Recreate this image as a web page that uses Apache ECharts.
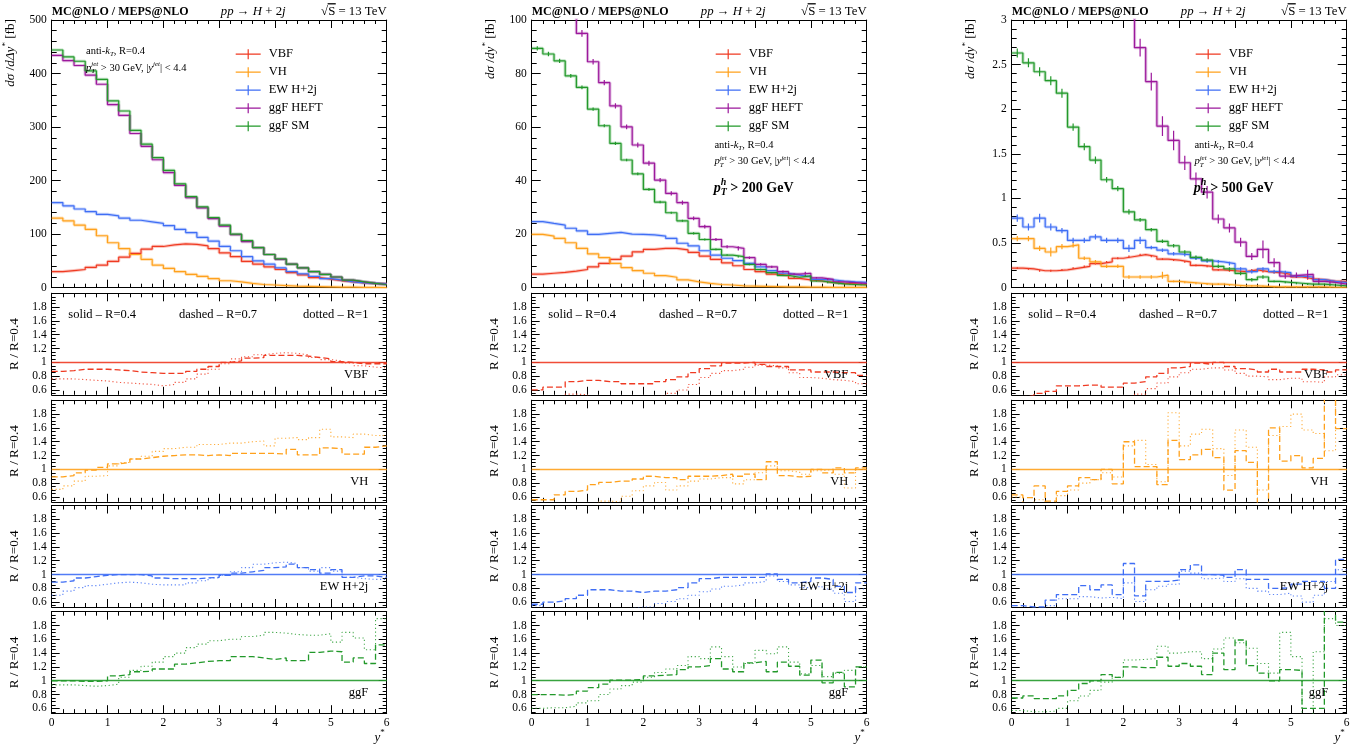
<!DOCTYPE html>
<html><head><meta charset="utf-8">
<script src="https://cdn.jsdelivr.net/npm/echarts@6/dist/echarts.min.js"></script>
<style>html,body{margin:0;padding:0;background:#fff}#c{width:1372px;height:748px}</style>
</head><body><div id="c"></div>
<script>
// ---------------- DATA ----------------
const binLo = [0,0.2,0.4,0.6,0.8,1.0,1.2,1.4,1.6,1.8,2.0,2.2,2.4,2.6,2.8,3.0,3.2,3.4,3.6,3.8,4.0,4.2,4.4,4.6,4.8,5.0,5.2,5.4,5.6,5.8];
const xMax = 6;
const seriesNames = ['VBF','VH','EW H+2j','ggF HEFT','ggF SM'];
const ratioNames = ['VBF','VH','EW H+2j','ggF'];
const cutLabels = ['', '200 GeV', '500 GeV'];
const mainYMax = [500, 100, 3];
const mainYStep = [100, 20, 0.5];
const ratioTicks = [0.6,0.8,1,1.2,1.4,1.6,1.8];

// inclusive (R=0.4), d sigma / d Delta y* [fb]
const VBF_incl  = [30,32,34,38,42,49,57,64,72,77,80,82,81,78,73,65,58,49,44,39,34,28,24,19,16,13,11,9,8,7.5];
const VH_incl   = [130,125,117,109,97,84,73,62,53,42,36,30,25,21,17,13,11,8,6,5,4,3,2.5,2,1.5,1,1,0.6,0.5,0.3];
const EW_incl   = [159,153,147,142,137,134,130,126,123,120,116,109,103,94,87,77,69,58,50,44,37,30,26,21,17,14,11,9,8,7];
const HEFT_incl = [434,424,415,397,380,342,322,288,264,239,215,191,168,149,129,115,99,86,75,62,53,44,37,30,25,20,14,11,8,6];
const SM_incl   = [444,431,423,405,389,349,330,294,268,243,219,194,170,151,131,117,100,88,75,62,54,44,37,30,25,20,14,11,8,6];

// pT^h > 200 GeV
const VBF_200  = [5.1,5.4,5.7,6.2,6.8,7.8,9.1,10.6,11.8,13.4,14.3,14.7,14.7,14.1,13.2,11.8,10.6,9.3,8.2,6.8,6.0,5.1,4.5,3.5,2.9,2.5,2.0,1.6,1.4,1.2];
const VH_200   = [19.9,19.3,18.4,16.8,14.7,12.6,11.2,9.1,7.5,6.4,5.4,4.5,3.9,2.9,2.2,1.6,1.2,1.0,0.7,0.6,0.5,0.4,0.3,0.3,0.2,0.2,0.1,0.1,0.1,0.1];
const EW_200   = [24.7,24.0,23.4,22.2,21.2,19.9,20.3,20.7,20.0,19.9,19.7,19.3,18.4,16.6,15.6,13.8,12.2,11.0,10.1,9.1,7.8,6.4,5.4,4.7,4.1,3.1,2.9,2.5,2.2,2.0];
const HEFT_200 = [117,113,108,103,95,84.4,76.6,67.9,60.1,53.3,46.5,40.2,35.2,31.8,25.9,22.8,18.0,15.3,14.7,11.2,8.7,7.8,6.0,5.1,5.4,3.7,3.1,2.2,1.9,1.6];
const SM_200   = [89.4,87.3,84.7,79.1,74.8,66.7,60.5,53.9,47.7,42.5,36.7,32.0,28.0,25.0,20.3,18.0,14.3,12.2,11.6,8.7,6.8,5.6,4.6,3.9,4.4,2.5,1.9,1.4,1.2,1.0];
// statistical half-errors of the visible crosses (pT^h > 200 GeV)
const HEFT_200_err = [1.5,1.5,1.4,1.4,1.3,1.0,1.0,1.0,0.9,0.9,0.9,0.8,0.8,0.8,0.7,0.7,0.6,0.6,0.8,0.5,0.4,0.4,0.4,0.3,0.6,0.3,0.3,0.2,0.2,0.2];
const SM_200_err   = [0.8,0.8,0.8,0.7,0.7,0.6,0.6,0.6,0.5,0.5,0.5,0.5,0.4,0.4,0.4,0.4,0.3,0.3,0.3,0.3,0.3,0.2,0.2,0.2,0.3,0.2,0.2,0.1,0.1,0.1];

// pT^h > 500 GeV
const VBF_500  = [0.22,0.21,0.19,0.19,0.20,0.22,0.24,0.27,0.29,0.33,0.35,0.37,0.35,0.32,0.31,0.29,0.25,0.24,0.20,0.19,0.18,0.20,0.18,0.17,0.15,0.12,0.10,0.09,0.07,0.07];
const VH_500   = [0.55,0.55,0.44,0.40,0.46,0.48,0.33,0.29,0.24,0.24,0.12,0.12,0.12,0.14,0.07,0.06,0.05,0.04,0.04,0.03,0.02,0.02,0.015,0.01,0.01,0.01,0.01,0.01,0.005,0.005];
const EW_500   = [0.78,0.68,0.78,0.68,0.64,0.53,0.53,0.57,0.53,0.53,0.44,0.53,0.45,0.42,0.38,0.37,0.33,0.30,0.29,0.27,0.21,0.18,0.21,0.18,0.17,0.13,0.12,0.09,0.07,0.06];
const HEFT_500 = [7.9,7.6,7.3,7.0,6.5,5.6,5.0,4.6,4.0,3.7,3.1,2.69,2.31,1.81,1.65,1.40,1.22,1.07,0.77,0.67,0.51,0.35,0.43,0.28,0.13,0.14,0.15,0.07,0.06,0.04];
const SM_500   = [2.63,2.52,2.42,2.32,2.18,1.80,1.58,1.43,1.21,1.11,0.85,0.76,0.65,0.52,0.47,0.40,0.34,0.31,0.24,0.21,0.16,0.09,0.12,0.07,0.06,0.05,0.04,0.04,0.03,0.02];
// statistical half-errors of the visible crosses (pT^h > 500 GeV)
const VBF_500_err  = [0.01,0.01,0.01,0.01,0.01,0.01,0.01,0.01,0.01,0.01,0.01,0.01,0.01,0.01,0.01,0.01,0.01,0.01,0.01,0.01,0.01,0.01,0.01,0.01,0.01,0.01,0.01,0.01,0.01,0.01];
const VH_500_err   = [0.03,0.03,0.03,0.05,0.03,0.03,0.02,0.02,0.02,0.02,0.02,0.02,0.02,0.04,0.01,0.01,0.01,0.01,0.01,0.01,0.01,0.01,0.01,0.01,0.01,0.01,0.01,0.01,0.01,0.01];
const EW_500_err   = [0.04,0.04,0.05,0.04,0.03,0.03,0.03,0.03,0.03,0.03,0.04,0.04,0.02,0.02,0.02,0.02,0.02,0.02,0.02,0.02,0.02,0.02,0.02,0.02,0.02,0.02,0.02,0.01,0.01,0.01];
const HEFT_500_err = [0.15,0.15,0.15,0.15,0.14,0.13,0.12,0.12,0.11,0.11,0.10,0.10,0.10,0.11,0.11,0.08,0.07,0.07,0.05,0.05,0.05,0.04,0.10,0.05,0.03,0.03,0.05,0.03,0.02,0.02];
const SM_500_err   = [0.05,0.05,0.05,0.05,0.05,0.04,0.04,0.04,0.03,0.03,0.03,0.02,0.02,0.02,0.02,0.02,0.02,0.02,0.02,0.02,0.02,0.02,0.02,0.01,0.01,0.01,0.01,0.01,0.01,0.01];

// ratios R=0.7 (dashed) and R=1 (dotted) over R=0.4
const VBF_incl_R07 = [0.87,0.88,0.90,0.90,0.90,0.89,0.88,0.86,0.85,0.84,0.84,0.84,0.87,0.90,0.94,1.00,1.02,1.06,1.07,1.10,1.10,1.10,1.09,1.07,1.05,1.01,1.00,0.98,0.98,0.98];
const VBF_incl_R10 = [0.76,0.76,0.75,0.74,0.73,0.71,0.70,0.69,0.68,0.66,0.68,0.71,0.76,0.83,0.90,0.98,1.05,1.08,1.11,1.13,1.14,1.13,1.11,1.07,1.04,1.02,0.99,0.95,0.93,0.92];
const VH_incl_R07  = [0.89,0.91,0.95,0.99,1.03,1.08,1.10,1.15,1.17,1.19,1.20,1.21,1.21,1.20,1.21,1.20,1.23,1.23,1.23,1.23,1.22,1.29,1.21,1.21,1.31,1.30,1.22,1.22,1.32,1.34];
const VH_incl_R10  = [0.71,0.76,0.83,0.90,0.91,1.05,1.10,1.15,1.19,1.26,1.30,1.32,1.32,1.36,1.36,1.38,1.38,1.40,1.41,1.34,1.45,1.46,1.43,1.46,1.58,1.47,1.46,1.51,1.49,1.49];
const EW_incl_R07  = [0.89,0.91,0.95,0.97,0.99,1.00,1.00,1.00,0.98,0.95,0.94,0.94,0.94,0.95,0.96,0.99,1.02,1.04,1.06,1.10,1.11,1.15,1.10,1.07,1.02,1.07,0.96,0.98,0.98,0.96];
const EW_incl_R10  = [0.70,0.76,0.81,0.84,0.86,0.88,0.89,0.88,0.86,0.85,0.85,0.85,0.88,0.91,0.95,0.99,1.04,1.10,1.15,1.17,1.18,1.16,1.10,1.05,1.10,1.05,0.96,0.94,0.93,0.93];
const ggF_incl_R07 = [1.00,1.00,0.99,0.99,1.00,1.07,1.09,1.13,1.14,1.17,1.17,1.24,1.26,1.28,1.29,1.29,1.35,1.35,1.33,1.31,1.33,1.29,1.29,1.41,1.43,1.42,1.27,1.33,1.25,1.52];
const ggF_incl_R10 = [0.94,0.94,0.93,0.92,0.93,0.95,1.05,1.15,1.21,1.27,1.35,1.40,1.48,1.53,1.58,1.60,1.60,1.64,1.66,1.70,1.69,1.67,1.66,1.66,1.68,1.56,1.70,1.62,1.45,1.90];

const VBF_200_R07 = [0.60,0.64,0.64,0.72,0.74,0.74,0.72,0.72,0.69,0.69,0.69,0.72,0.75,0.79,0.85,0.91,0.95,0.99,0.99,1.00,0.97,0.94,0.94,0.89,0.89,0.86,0.86,0.85,0.85,0.81];
const VBF_200_R10 = [0.45,0.47,0.50,0.54,0.53,0.50,0.49,0.48,0.48,0.49,0.50,0.52,0.55,0.60,0.68,0.78,0.84,0.88,0.90,0.93,0.96,0.95,0.92,0.85,0.78,0.77,0.75,0.74,0.72,0.69];
const VH_200_R07  = [0.56,0.56,0.63,0.68,0.70,0.78,0.81,0.83,0.83,0.86,0.90,0.88,0.88,0.85,0.90,0.90,0.91,0.93,0.90,0.93,0.85,1.11,0.91,0.89,0.90,1.00,0.95,1.02,0.95,1.02];
const VH_200_R10  = [0.40,0.42,0.45,0.47,0.50,0.50,0.54,0.53,0.61,0.69,0.76,0.81,0.70,0.76,0.83,0.86,0.88,0.88,0.79,0.85,0.95,1.05,0.98,0.96,0.93,0.98,1.00,0.93,0.73,1.00];
const EW_200_R07  = [0.57,0.60,0.62,0.65,0.70,0.78,0.78,0.76,0.76,0.74,0.76,0.76,0.78,0.81,0.88,0.94,0.96,0.96,0.96,0.96,0.96,1.01,0.93,0.88,0.90,0.95,0.93,0.83,0.74,0.88];
const EW_200_R10  = [0.55,0.50,0.48,0.47,0.47,0.48,0.49,0.50,0.51,0.53,0.53,0.58,0.61,0.65,0.70,0.75,0.79,0.83,0.85,0.88,0.90,0.98,0.90,0.85,0.81,0.83,0.79,0.73,0.61,0.79];
const ggF_200_R07 = [0.80,0.80,0.79,0.80,0.85,0.90,0.95,1.01,1.01,1.02,1.07,1.08,1.09,1.16,1.20,1.22,1.32,1.17,1.13,1.26,1.28,1.13,1.27,1.21,1.08,1.30,0.97,1.12,0.91,1.20];
const ggF_200_R10 = [0.60,0.61,0.61,0.63,0.68,0.71,0.80,0.88,0.93,0.98,1.05,1.12,1.17,1.22,1.35,1.32,1.49,1.35,1.20,1.25,1.44,1.39,1.49,1.27,1.10,1.22,1.06,1.11,1.15,1.20];

const VBF_500_R07 = [0.50,0.52,0.55,0.58,0.66,0.66,0.67,0.67,0.64,0.64,0.70,0.72,0.79,0.84,0.92,0.94,0.99,0.97,1.00,0.94,0.91,0.89,0.86,0.90,0.86,0.86,0.90,0.89,0.86,0.89];
const VBF_500_R10 = [0.40,0.42,0.43,0.45,0.46,0.46,0.47,0.47,0.48,0.49,0.49,0.54,0.62,0.70,0.79,0.85,0.90,0.92,0.92,0.89,0.84,0.80,0.79,0.75,0.77,0.77,0.72,0.71,0.79,0.82];
const VH_500_R07  = [0.63,0.59,0.76,0.54,0.68,0.76,0.88,0.85,1.00,0.79,1.40,1.04,1.04,0.78,1.42,1.14,1.21,1.29,1.17,0.70,1.27,1.10,0.40,1.60,1.12,1.20,1.02,1.16,2.10,1.59];
const VH_500_R10  = [0.60,0.50,0.56,0.50,0.62,0.70,0.80,0.85,0.95,0.89,1.34,1.42,1.07,0.82,1.82,1.34,1.51,1.58,1.30,0.91,1.57,1.32,0.70,1.49,1.62,1.80,1.57,1.52,1.27,2.10];
const EW_500_R07  = [0.55,0.53,0.53,0.63,0.71,0.71,0.84,0.78,0.85,0.71,1.16,0.69,0.90,0.90,0.92,1.07,1.14,1.00,0.99,0.96,1.07,0.93,0.93,0.80,0.81,0.86,0.90,0.90,0.80,1.22];
const EW_500_R10  = [0.50,0.48,0.50,0.55,0.65,0.65,0.68,0.66,0.67,0.65,0.88,0.61,0.78,0.83,0.86,1.05,1.02,0.94,0.95,0.90,0.94,0.80,0.76,0.71,0.73,0.69,0.60,0.70,0.90,1.07];
const ggF_500_R07 = [0.75,0.78,0.74,0.74,0.78,0.86,0.96,1.00,1.09,1.05,1.20,1.19,1.19,1.34,1.21,1.25,1.21,1.09,1.40,1.16,1.59,1.22,1.11,1.00,1.16,1.15,0.60,0.60,2.20,1.85];
const ggF_500_R10 = [0.57,0.55,0.55,0.56,0.60,0.71,0.78,0.86,0.98,1.05,1.30,1.31,1.32,1.50,1.40,1.42,1.42,1.32,1.46,1.62,1.55,1.47,1.25,1.11,1.70,1.35,0.51,1.42,1.90,1.80];

// ---------------- LAYOUT / STYLE ----------------
const FF = 'Liberation Serif';
const COLORS = ['#ef3a22','#ffa11c','#3f6ef5','#9c189c','#22992a'];
const RATIO_COLORS = ['#ef3a22','#ffa11c','#3f6ef5','#22992a'];
const colLeft = [51.7, 531.7, 1011.7];
const plotW = 335;
const mainTop = 20, mainH = 267.7;
const ratioTops = [293.3, 400.3, 505.5, 611.7];
const ratioH = 101.5;
const rMin = 0.53, rMax = 2.0;

const mainSets = [
  [VBF_incl, VH_incl, EW_incl, HEFT_incl, SM_incl],
  [VBF_200, VH_200, EW_200, HEFT_200, SM_200],
  [VBF_500, VH_500, EW_500, HEFT_500, SM_500]
];
const errSets = [
  [null, null, null, null, null],
  [null, null, null, HEFT_200_err, SM_200_err],
  [VBF_500_err, VH_500_err, EW_500_err, HEFT_500_err, SM_500_err]
];
const ratioSets = [
  [[VBF_incl_R07,VBF_incl_R10],[VH_incl_R07,VH_incl_R10],[EW_incl_R07,EW_incl_R10],[ggF_incl_R07,ggF_incl_R10]],
  [[VBF_200_R07,VBF_200_R10],[VH_200_R07,VH_200_R10],[EW_200_R07,EW_200_R10],[ggF_200_R07,ggF_200_R10]],
  [[VBF_500_R07,VBF_500_R10],[VH_500_R07,VH_500_R10],[EW_500_R07,EW_500_R10],[ggF_500_R07,ggF_500_R10]]
];

function hist(vals){ const d = binLo.map((x,i)=>[x, vals[i]]); d.push([xMax, vals[vals.length-1]]); return d; }
function errData(vals, errs){ return binLo.map((x,i)=>[x + (i<binLo.length-1 ? (binLo[i+1]-x)/2 : (xMax-x)/2), vals[i], errs[i]]); }

const grids=[], xAxes=[], yAxes=[], series=[], legends=[], gfx=[];
const lblStyle = {color:'#000', fontFamily:FF, fontSize:11.5};

function addXAxes(gi, showLabel){
  const base = {type:'value', gridIndex:gi, min:0, max:xMax, interval:1,
    axisLine:{show:true, onZero:false, lineStyle:{color:'#000', width:1}},
    axisTick:{show:true, inside:true, length:8, lineStyle:{color:'#000', width:1}},
    minorTick:{show:true, splitNumber:5, length:4, lineStyle:{color:'#000', width:1}},
    splitLine:{show:false}, minorSplitLine:{show:false}};
  const b = xAxes.length;
  xAxes.push(Object.assign({}, base, {position:'bottom', axisLabel:Object.assign({show:showLabel, margin:4}, lblStyle)}));
  xAxes.push(Object.assign({}, base, {position:'top', axisLabel:{show:false}}));
  return b;
}
function addMainY(gi, c){
  const base = {type:'value', gridIndex:gi, min:0, max:mainYMax[c], interval:mainYStep[c],
    axisLine:{show:true, onZero:false, lineStyle:{color:'#000', width:1}},
    axisTick:{show:true, inside:true, length:9, lineStyle:{color:'#000', width:1}},
    minorTick:{show:true, splitNumber:5, length:5, lineStyle:{color:'#000', width:1}},
    splitLine:{show:false}, minorSplitLine:{show:false}};
  const b = yAxes.length;
  yAxes.push(Object.assign({}, base, {position:'left', axisLabel:Object.assign({show:true, margin:5}, lblStyle)}));
  yAxes.push(Object.assign({}, base, {position:'right', axisLabel:{show:false}}));
  return b;
}
const minorVals = []; for (let k=11;k<=39;k++) minorVals.push(Math.round(k*5)/100);
function addRatioY(gi){
  const base = {type:'value', gridIndex:gi, min:rMin, max:rMax,
    axisLine:{show:true, onZero:false, lineStyle:{color:'#000', width:1}},
    splitLine:{show:false}};
  const b = yAxes.length;
  yAxes.push(Object.assign({}, base, {position:'left',
    axisTick:{show:true, inside:true, length:8, customValues:ratioTicks, lineStyle:{color:'#000'}},
    axisLabel:Object.assign({show:true, margin:5, customValues:ratioTicks}, lblStyle)}));
  yAxes.push(Object.assign({}, base, {position:'right',
    axisTick:{show:true, inside:true, length:8, customValues:ratioTicks, lineStyle:{color:'#000'}},
    axisLabel:{show:false}}));
  yAxes.push(Object.assign({}, base, {position:'left',
    axisTick:{show:true, inside:true, length:4, customValues:minorVals, lineStyle:{color:'#000'}},
    axisLabel:{show:false}}));
  yAxes.push(Object.assign({}, base, {position:'right',
    axisTick:{show:true, inside:true, length:4, customValues:minorVals, lineStyle:{color:'#000'}},
    axisLabel:{show:false}}));
  return b;
}

// text helper
const mctx = document.createElement('canvas').getContext('2d');
function fstr(s){ return (s.it?'italic ':'')+(s.b?'bold ':'')+s.size+'px "'+FF+'"'; }
function run(x, y, segs, align, rot, base){
  segs = segs.map(s=>Object.assign({size:base.size, b:base.b}, s));
  const widths = segs.map(s=>{ mctx.font = fstr(s); return mctx.measureText(s.t).width; });
  let pos=0, held=null; const P=[];
  segs.forEach((s,i)=>{ P.push(pos); if(s.hold){ held=widths[i]; return; } let w=widths[i]; if(held!==null){ w=Math.max(w,held); held=null; } pos+=w; });
  const start = align==='left'?0:(align==='center'?-pos/2:-pos);
  const out = [];
  segs.forEach((s,i)=>{
    const a = start+P[i], dy = s.dy||0;
    const ex = rot ? x - dy : x + a, ey = rot ? y - a : y - dy;
    out.push({type:'text', x:ex, y:ey, rotation: rot?Math.PI/2:0, silent:true, z:100,
      style:{text:s.t, fill:'#000', fontSize:s.size, fontFamily:FF, fontStyle:s.it?'italic':'normal',
        fontWeight:s.b?'bold':'normal', textAlign:'left', align:'left', textVerticalAlign:'middle', verticalAlign:'middle'}});
  });
  gfx.push(...out);
  return {start, P, widths};
}

function errRender(params, api){
  const x = api.value(0), v = api.value(1), e = api.value(2);
  const p1 = api.coord([x, v - e]), p2 = api.coord([x, v + e]);
  return {type:'line', shape:{x1:p1[0], y1:p1[1], x2:p2[0], y2:p2[1]},
    style:{stroke:api.visual('color'), lineWidth:1.2}};
}

for (let c=0;c<3;c++){
  const ox = colLeft[c];
  // main grid
  let gi = grids.length;
  grids.push({left:ox, top:mainTop, width:plotW, height:mainH});
  const xb = addXAxes(gi, false), yb = addMainY(gi, c);
  mainSets[c].forEach((vals, k)=>{
    series.push({type:'line', name:seriesNames[k]+' band', xAxisIndex:xb, yAxisIndex:yb, data:hist(vals), step:'end',
      symbol:'none', silent:true, color:COLORS[k], lineStyle:{color:COLORS[k], width:3.2, opacity:0.28}, z:2});
    series.push({type:'line', name:seriesNames[k], xAxisIndex:xb, yAxisIndex:yb, data:hist(vals), step:'end',
      symbol:'none', color:COLORS[k], itemStyle:{color:COLORS[k]}, lineStyle:{color:COLORS[k], width:1.2}, z:3});
    const errs = errSets[c][k];
    if (errs) {
      series.push({type:'custom', name:seriesNames[k]+' err', xAxisIndex:xb, yAxisIndex:yb, clip:true, silent:true,
        color:COLORS[k], itemStyle:{color:COLORS[k]}, renderItem:errRender, data:errData(vals, errs), z:4});
    }
  });
  legends.push({show:true, orient:'vertical', left:ox+184, top: 47.7, padding:0,
    itemWidth:25, itemHeight:10, itemGap:5, data:seriesNames, selectedMode:false,
    icon:'path://M0,4.4H25V5.6H0Z M11.9,0H13.1V10H11.9Z',
    itemStyle:{borderWidth:0},
    textStyle:{fontFamily:FF, fontSize:12.5, color:'#000', padding:[0,0,0,3]}});
  // ratio grids
  for (let p=0;p<4;p++){
    gi = grids.length;
    grids.push({left:ox, top:ratioTops[p], width:plotW, height:ratioH});
    const rxb = addXAxes(gi, p===3), ryb = addRatioY(gi);
    const col = RATIO_COLORS[p];
    const [r07, r10] = ratioSets[c][p];
    series.push({type:'line', name:ratioNames[p]+' R=0.7', xAxisIndex:rxb, yAxisIndex:ryb, data:hist(r07), step:'end',
      symbol:'none', silent:true, color:col, lineStyle:{color:col, width:1.3, type:[6,3]}, z:3,
      markLine:{silent:true, symbol:'none', label:{show:false}, animation:false,
        lineStyle:{color:col, width:1.4, type:'solid', opacity:0.9}, data:[{yAxis:1}]}});
    series.push({type:'line', name:ratioNames[p]+' R=1', xAxisIndex:rxb, yAxisIndex:ryb, data:hist(r10), step:'end',
      symbol:'none', silent:true, color:col, lineStyle:{color:col, width:1.1, type:[1.2,2.6], opacity:0.85}, z:3});
    run(ox-37.5, ratioTops[p]+ratioH/2, [{t:'R / R=0.4'}], 'center', true, {size:13.2});
    run(ox+316.5, ratioTops[p]+81.5, [{t:ratioNames[p]}], 'right', false, {size:12.5});
  }
  // titles
  run(ox, 12, [{t:'MC@NLO / MEPS@NLO'}], 'left', false, {size:12, b:true});
  run(ox+201.5, 12, [{t:'pp',it:true},{t:' \u2192 '},{t:'H',it:true},{t:' + 2'},{t:'j',it:true}], 'center', false, {size:12.8});
  const r = run(ox+335, 12, [{t:'\u221a'},{t:'S'},{t:' = 13 TeV'}], 'right', false, {size:12.8});
  const sx = ox+335 + r.start + r.P[1];
  gfx.push({type:'line', silent:true, z:100, shape:{x1:sx-0.5, y1:3.8, x2:sx+r.widths[1]+0.5, y2:3.8}, style:{stroke:'#000', lineWidth:1.3}});
  // y-axis title
  const yl = c===0 ? [{t:'d\u03c3',it:true},{t:' /'},{t:'d\u0394y',it:true},{t:'*',size:9,dy:5.5},{t:' [fb]'}]
                   : [{t:'d\u03c3',it:true},{t:' /'},{t:'dy',it:true},{t:'*',size:9,dy:5.5},{t:' [fb]'}];
  run(ox-40.7, 19, yl, 'right', true, {size:13.2});
  // annotations
  const ax = c===0 ? ox+34.3 : ox+182.7;
  const ay1 = c===0 ? 51.7 : 145.7, ay2 = c===0 ? 68.3 : 161.7;
  run(ax, ay1, [{t:'anti-'},{t:'k',it:true},{t:'T',it:true,size:7,dy:-2.5},{t:', R=0.4'}], 'left', false, {size:10.5});
  run(ax, ay2, [{t:'p',it:true},{t:'jet',it:true,size:7,dy:4,hold:true},{t:'T',it:true,size:7,dy:-3},
    {t:' > 30 GeV, |'},{t:'y',it:true},{t:'jet',it:true,size:7,dy:4},{t:'| < 4.4'}], 'left', false, {size:10.5});
  if (c>0){
    run(ox+182, 188.3, [{t:'p',it:true},{t:'h',it:true,size:10,dy:6,hold:true},{t:'T',it:true,size:10,dy:-4},
      {t:' > '+cutLabels[c]}], 'left', false, {size:14, b:true});
  }
  // ratio legend text
  run(ox+16.6, 315, [{t:'solid \u2013 R=0.4'}], 'left', false, {size:12.5});
  run(ox+166.3, 315, [{t:'dashed \u2013 R=0.7'}], 'center', false, {size:12.5});
  run(ox+316.7, 315, [{t:'dotted \u2013 R=1'}], 'right', false, {size:12.5});
  // x axis title
  run(ox+333, 738, [{t:'y',it:true},{t:'*',size:9,dy:5}], 'right', false, {size:13});
}

const chart = echarts.init(document.getElementById('c'), null, {renderer:'canvas'});
chart.setOption({
  animation:false,
  backgroundColor:'#fff',
  grid:grids, xAxis:xAxes, yAxis:yAxes, series:series, legend:legends,
  graphic:{elements:gfx}
});
</script>
</body></html>
